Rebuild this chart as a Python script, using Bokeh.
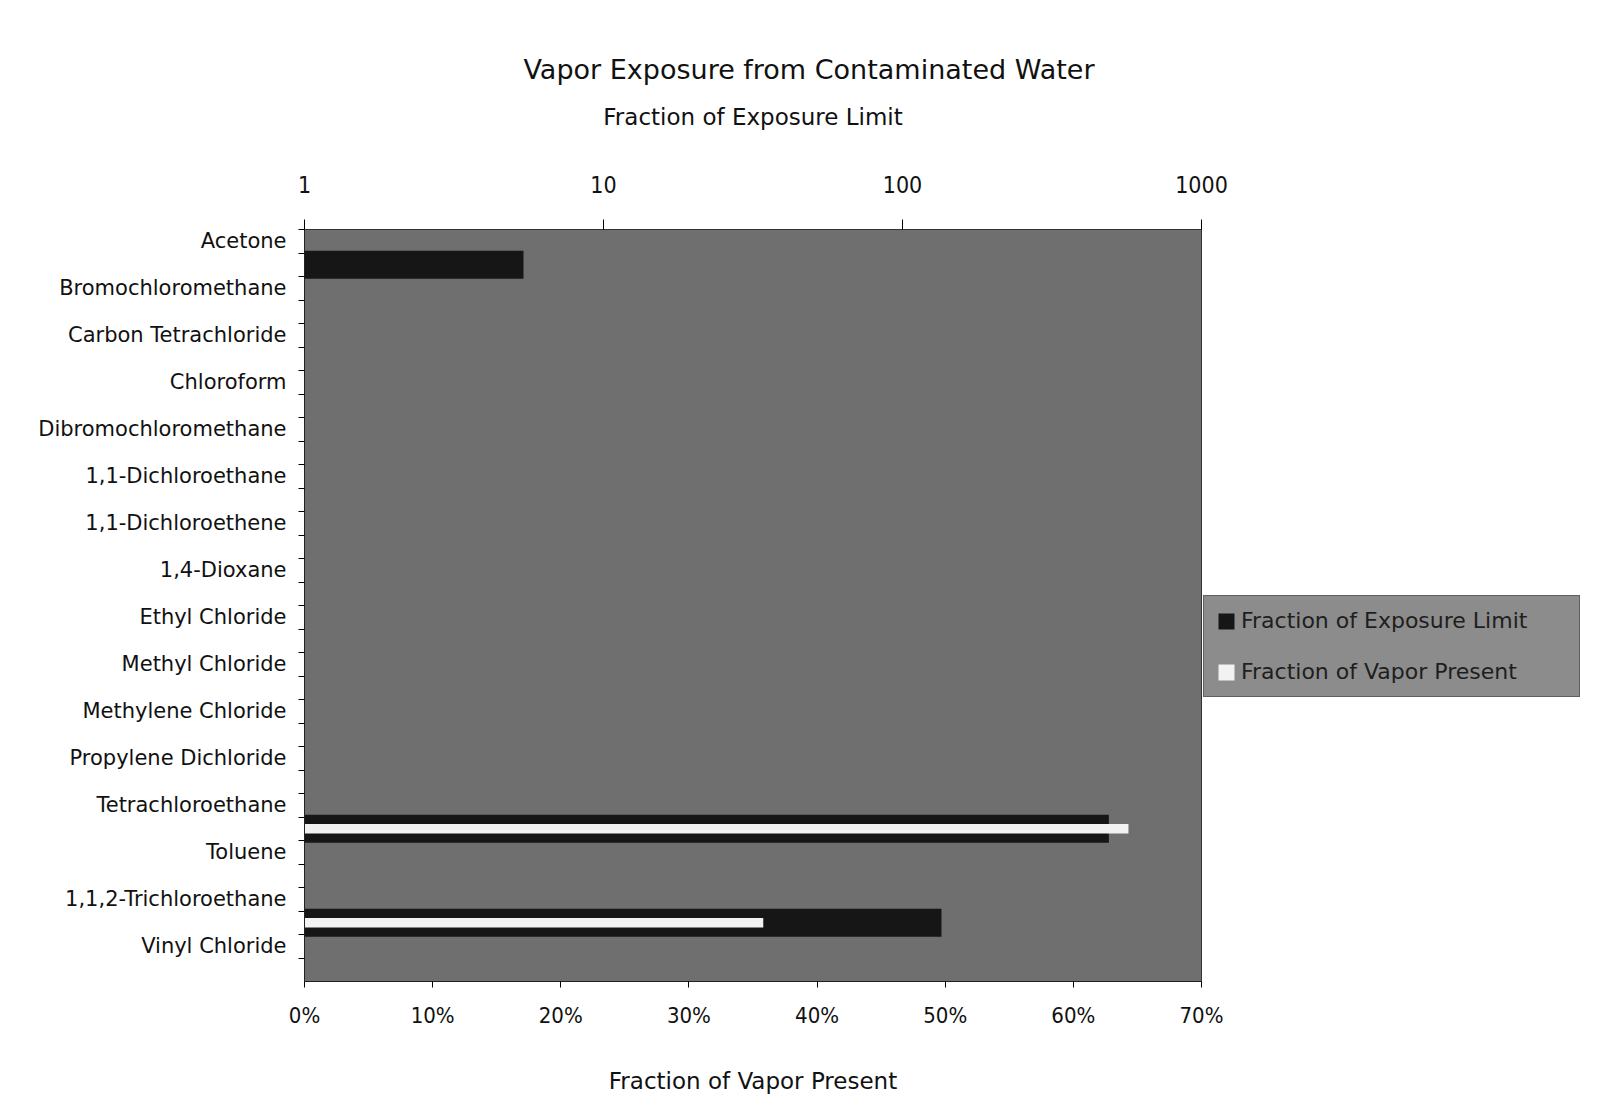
from bokeh.plotting import figure
from bokeh.models import (Range1d, LinearAxis, LogAxis, FixedTicker, LogScale,
                          NumeralTickFormatter, Legend, LegendItem, ColumnDataSource)
from bokeh.embed import file_html
from bokeh.resources import INLINE

# ---------------- data ----------------
categories = [
    "Acetone", "Bromochloromethane", "Carbon Tetrachloride", "Chloroform",
    "Dibromochloromethane", "1,1-Dichloroethane", "1,1-Dichloroethene",
    "1,4-Dioxane", "Ethyl Chloride", "Methyl Chloride", "Methylene Chloride",
    "Propylene Dichloride", "Tetrachloroethane", "Toluene",
    "1,1,2-Trichloroethane", "Vinyl Chloride",
]
# Fraction of Exposure Limit (top, log axis); None = no bar
exposure_fraction = [None, 5.4, None, None, None, None, None, None,
                     None, None, None, None, None, 490, None, 135]
# Fraction of Vapor Present (bottom, linear axis)
vapor_fraction = [0, 0, 0, 0, 0, 0, 0, 0,
                  0, 0, 0, 0, 0, 0.643, 0, 0.358]

exposure_ticks = [1, 10, 100, 1000]
vapor_ticks = [0, 0.1, 0.2, 0.3, 0.4, 0.5, 0.6, 0.7]

# ---------------- layout ----------------
n = len(categories)
idx = list(range(n))
bar_pos = [i - 0.5 for i in idx]  # bars sit just above their label

exp_src = ColumnDataSource(dict(
    y=[bar_pos[i] for i in idx if exposure_fraction[i]],
    right=[exposure_fraction[i] for i in idx if exposure_fraction[i]],
))
exp_src.data["left"] = [1] * len(exp_src.data["y"])
vap_src = ColumnDataSource(dict(
    y=[bar_pos[i] for i in idx if vapor_fraction[i]],
    right=[vapor_fraction[i] for i in idx if vapor_fraction[i]],
))

SANS = "DejaVu Sans, Verdana, sans-serif"
NARROW = "DejaVu Sans Condensed, Liberation Sans Narrow, sans-serif"
INK = "#111111"

p = figure(frame_width=897, frame_height=752, output_backend="svg", toolbar_location=None,
           x_range=Range1d(0, 0.7), y_range=Range1d(n - 0.25, -0.25),
           x_axis_location=None, y_axis_location=None,
           min_border_left=304, min_border_right=393,
           min_border_top=229, min_border_bottom=116,
           title="Vapor Exposure from Contaminated Water")
p.extra_x_ranges = {"log": Range1d(exposure_ticks[0], exposure_ticks[-1])}
p.extra_x_scales = {"log": LogScale()}

for g in p.grid:
    g.visible = False
p.background_fill_color = "#6f6f6f"
p.border_fill_color = "white"
p.outline_line_color = "#333333"
p.outline_line_width = 1

p.title.align = "left"
p.title.offset = 219
p.title.text_font = SANS
p.title.text_font_size = "27px"
p.title.text_font_style = "normal"
p.title.text_color = INK
p.title.standoff = 32

# bars
r_exp = p.hbar(y="y", left="left", right="right", height=0.6, source=exp_src,
               x_range_name="log", fill_color="#161616", line_color=None)
r_vap = p.hbar(y="y", left=0, right="right", height=0.2, source=vap_src,
               fill_color="#f2f2f2", line_color=None)

# top log axis
top = LogAxis(x_range_name="log", ticker=FixedTicker(ticks=exposure_ticks),
              formatter=NumeralTickFormatter(format="0"),
              axis_label="Fraction of Exposure Limit")
top.major_tick_out = 10
top.major_tick_in = 0
top.minor_tick_out = 0
top.major_label_standoff = 27
top.axis_label_standoff = 43
top.major_label_text_font = NARROW
top.major_label_text_font_size = "23px"
top.major_label_text_color = INK
top.axis_label_text_font = SANS
top.axis_label_text_font_size = "23px"
top.axis_label_text_font_style = "normal"
top.axis_label_text_color = INK
top.axis_line_color = None
p.add_layout(top, "above")

# bottom linear axis
bottom = LinearAxis(ticker=FixedTicker(ticks=vapor_ticks),
                    formatter=NumeralTickFormatter(format="0%"),
                    axis_label="Fraction of Vapor Present")
bottom.major_tick_out = 6
bottom.major_tick_in = 0
bottom.minor_tick_out = 0
bottom.major_label_standoff = 15
bottom.axis_label_standoff = 37
bottom.major_label_text_font = NARROW
bottom.major_label_text_font_size = "22px"
bottom.major_label_text_color = INK
bottom.axis_label_text_font = SANS
bottom.axis_label_text_font_size = "23px"
bottom.axis_label_text_font_style = "normal"
bottom.axis_label_text_color = INK
bottom.axis_line_color = "#222222"
p.add_layout(bottom, "below")

# left category axis
minor = sorted([i - 0.25 for i in idx] + [i + 0.25 for i in idx])
left = LinearAxis(ticker=FixedTicker(ticks=idx, minor_ticks=minor),
                  major_label_overrides={i: c for i, c in zip(idx, categories)})
left.major_tick_out = 0
left.major_tick_in = 0
left.minor_tick_out = 6
left.minor_tick_in = 0
left.major_label_standoff = 12
left.major_label_text_font = SANS
left.major_label_text_font_size = "21px"
left.major_label_text_color = INK
left.axis_line_color = "#222222"
p.add_layout(left, "left")

# legend
legend = Legend(items=[LegendItem(label="Fraction of Exposure Limit", renderers=[r_exp]),
                       LegendItem(label="Fraction of Vapor Present", renderers=[r_vap])],
                location=(2, 284), orientation="vertical")
legend.padding = 12
legend.margin = 0
legend.spacing = 26
legend.glyph_width = 20
legend.glyph_height = 20
legend.label_height = 22
legend.label_width = 326
legend.label_standoff = 5
legend.label_text_font = SANS
legend.label_text_font_size = "22px"
legend.label_text_color = "#1e1e1e"
legend.background_fill_color = "#8c8c8c"
legend.background_fill_alpha = 1
legend.border_line_color = "#333333"
legend.border_line_width = 1
p.add_layout(legend, "right")

open("out.html", "w").write(file_html(p, INLINE))
